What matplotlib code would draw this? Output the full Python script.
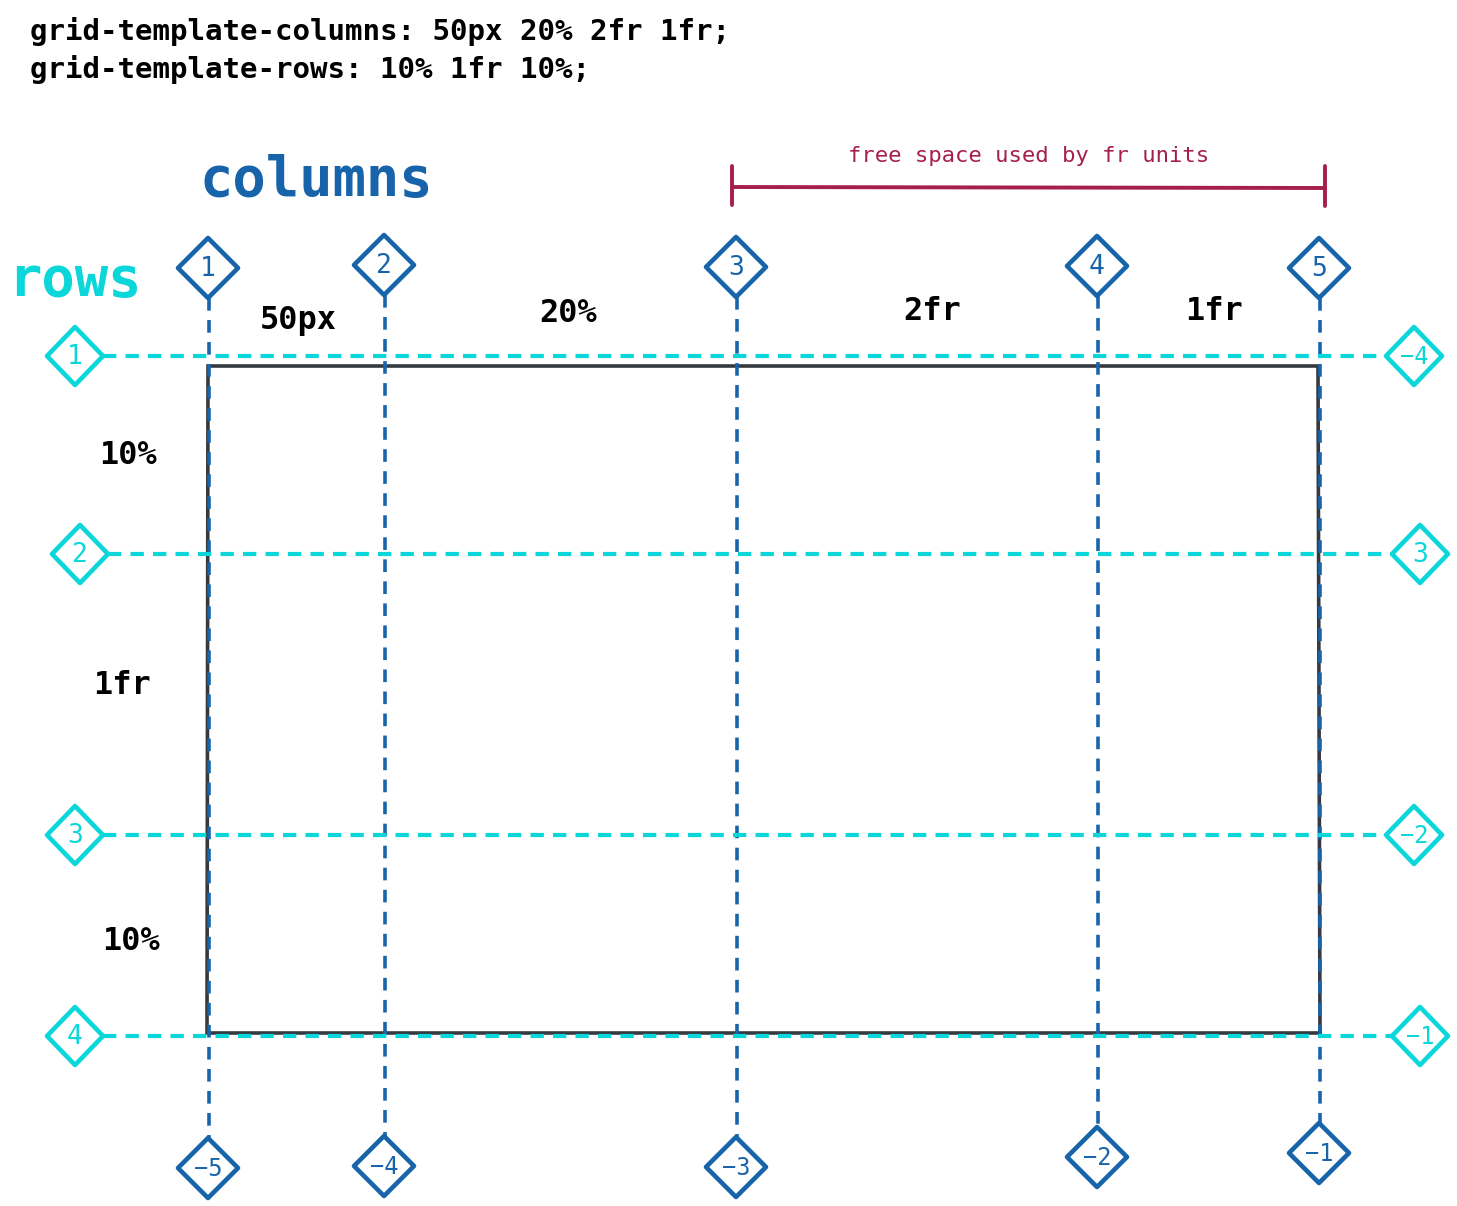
import matplotlib
matplotlib.use("Agg")
import matplotlib.pyplot as plt
from matplotlib.patches import Polygon

# ---- diagram data (pixel positions) ----
code_lines = ["grid-template-columns: 50px 20% 2fr 1fr;",
              "grid-template-rows: 10% 1fr 10%;"]

col_x = [208, 384, 736, 1097, 1319]
col_top_labels = ["1", "2", "3", "4", "5"]
col_top_y = [268, 265, 267, 266, 268]
col_bot_labels = ["−5", "−4", "−3", "−2", "−1"]
col_bot_y = [1168, 1166, 1167, 1157, 1153]

row_y = [356, 554, 835, 1036]
row_left_labels = ["1", "2", "3", "4"]
row_left_x = [75, 80, 75, 75]
row_right_labels = ["−4", "3", "−2", "−1"]
row_right_x = [1414, 1420, 1414, 1420]

col_sizes = ["50px", "20%", "2fr", "1fr"]
col_size_pos = [(298, 320), (568, 314), (932, 311), (1214, 311)]
row_sizes = ["10%", "1fr", "10%"]
row_size_pos = [(128, 455), (122, 685), (131, 942)]

box = [(208, 366), (1318, 366), (1320, 1033), (207, 1033)]
fr_span = (732, 1325)

BLUE = "#1864ab"
CYAN = "#0bd6d9"
RED = "#a61e4d"
DARK = "#343a40"
MONO = "DejaVu Sans Mono"

fig = plt.figure(figsize=(14.57, 12.06), dpi=100)
ax = fig.add_axes([0, 0, 1, 1])
ax.set_xlim(0, 1457)
ax.set_ylim(1206, 0)
ax.axis("off")

def diamond(cx, cy, label, color, hw=30, hh=30):
    pts = [(cx, cy - hh), (cx + hw, cy), (cx, cy + hh), (cx - hw, cy)]
    ax.add_patch(Polygon(pts, closed=True, facecolor="white", edgecolor=color,
                         lw=3.3, joinstyle="round", zorder=5))
    ax.text(cx, cy + 1, label, color=color, fontsize=19 if len(label) == 1 else 17,
            family=MONO, ha="center", va="center", zorder=6)

# code text
for i, line in enumerate(code_lines):
    ax.text(30, 31 + i * 38, line, fontsize=21, family=MONO, fontweight="bold",
            ha="left", va="center", color="black")

ax.text(200, 180, "columns", fontsize=40, family=MONO, fontweight="bold",
        color=BLUE, ha="left", va="center")
ax.text(8, 280, "rows", fontsize=40, family=MONO, fontweight="bold",
        color=CYAN, ha="left", va="center")

# grid container
ax.add_patch(Polygon(box, closed=True, fill=False, edgecolor=DARK, lw=2.6, zorder=2))

# column lines
for x, yt, yb in zip(col_x, col_top_y, col_bot_y):
    ax.plot([x + 1, x + 1], [yt + 30, yb - 30], color=BLUE, lw=2.6,
            dashes=(3.5, 2.6), zorder=3)
for x, yt, lab in zip(col_x, col_top_y, col_top_labels):
    diamond(x, yt, lab, BLUE)
for x, yb, lab in zip(col_x, col_bot_y, col_bot_labels):
    diamond(x, yb, lab, BLUE)

# row lines
for y, xl, xr in zip(row_y, row_left_x, row_right_x):
    ax.plot([xl + 28, xr - 28], [y, y], color=CYAN, lw=3,
            dashes=(3.2, 2.2), zorder=4)
for y, xl, lab in zip(row_y, row_left_x, row_left_labels):
    diamond(xl, y, lab, CYAN, hw=28, hh=29)
for y, xr, lab in zip(row_y, row_right_x, row_right_labels):
    diamond(xr, y, lab, CYAN, hw=28, hh=29)

# track size labels
for lab, (x, y) in zip(col_sizes, col_size_pos):
    ax.text(x, y, lab, fontsize=23, family=MONO, fontweight="bold",
            ha="center", va="center", color="black")
for lab, (x, y) in zip(row_sizes, row_size_pos):
    ax.text(x, y, lab, fontsize=23, family=MONO, fontweight="bold",
            ha="center", va="center", color="black")

# free space bracket
x0, x1 = fr_span
ax.plot([x0, x1], [187, 188], color=RED, lw=2.8, solid_capstyle="round")
ax.plot([x0, x0], [166, 205], color=RED, lw=2.8, solid_capstyle="round")
ax.plot([x1, x1], [166, 206], color=RED, lw=2.8, solid_capstyle="round")
ax.text((x0 + x1) / 2, 156, "free space used by fr units", fontsize=16,
        family=MONO, color=RED, ha="center", va="center")

fig.savefig("out.png", dpi=100, facecolor="white")
